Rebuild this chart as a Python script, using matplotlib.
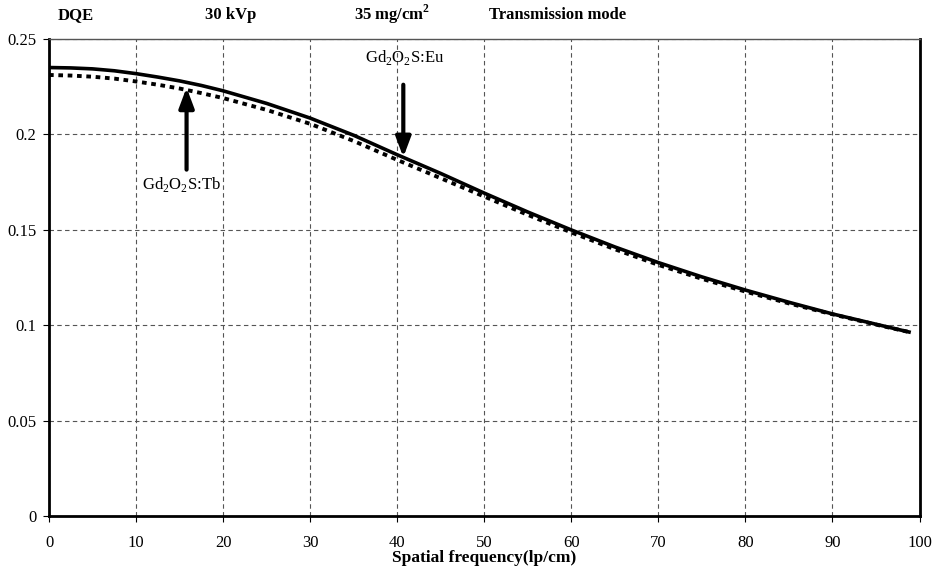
import numpy as np
import matplotlib.pyplot as plt

plt.rcParams['font.family'] = ['Liberation Serif', 'DejaVu Serif']
plt.rcParams['mathtext.fontset'] = 'custom'
plt.rcParams['mathtext.rm'] = 'Liberation Serif'
plt.rcParams['mathtext.bf'] = 'Liberation Serif:bold'

# spatial frequency (lp/cm) and DQE
freq = [0, 2.5, 5, 7.5, 10, 12.5, 15, 17.5, 20, 25, 30, 35, 40, 45, 50, 55, 60, 65, 70, 75,
        80, 85, 90, 95, 99]
dqe_eu = [0.2350, 0.2348, 0.2343, 0.2333, 0.2318, 0.2300, 0.2280, 0.2256, 0.2228, 0.2162,
          0.2085, 0.1995, 0.1893, 0.1795, 0.1692, 0.1593, 0.1499, 0.1410, 0.1328, 0.1253,
          0.1184, 0.1120, 0.1059, 0.1005, 0.0962]
dqe_tb = [0.2311, 0.2308, 0.2302, 0.2292, 0.2277, 0.2260, 0.2240, 0.2216, 0.2190, 0.2128,
          0.2055, 0.1965, 0.1866, 0.1770, 0.1674, 0.1578, 0.1486, 0.1398, 0.1316, 0.1243,
          0.1176, 0.1114, 0.1057, 0.1003, 0.0962]

xticks = np.arange(0, 101, 10)
yticks = [0, 0.05, 0.1, 0.15, 0.2, 0.25]
ylabels = ['0', '0.05', '0.1', '0.15', '0.2', '0.25']

fig = plt.figure(figsize=(9.32, 5.68), dpi=100)
ax = fig.add_axes([0.0526, 0.0915, 0.934, 0.84])

ax.plot(freq, dqe_eu, color='black', lw=2.6, solid_capstyle='butt', solid_joinstyle='round')
ax.plot(freq, dqe_tb, color='black', lw=2.8, linestyle=(0, (1.2, 1.2)))

ax.set_xlim(0, 100)
ax.set_ylim(0, 0.25)
ax.set_xticks(xticks)
ax.set_yticks(yticks)
ax.set_yticklabels(ylabels)
ax.grid(True, color='#555555', linestyle=(0, (4, 3)), linewidth=0.8)
ax.tick_params(axis='x', length=4, pad=10, labelsize=12)
ax.tick_params(axis='y', length=4, pad=5, labelsize=12)

for side in ['left', 'right', 'bottom']:
    ax.spines[side].set_linewidth(2)
ax.spines['top'].set_linewidth(1)
ax.spines['top'].set_color('#555555')

ax.set_xlabel('Spatial frequency(lp/cm)', fontsize=12.5, fontweight='bold', labelpad=-1)

# header line
fig.text(0.062, 0.974, 'DQE', fontsize=12, fontweight='bold', va='center')
fig.text(0.220, 0.974, '30 kVp', fontsize=12, fontweight='bold', va='center')
fig.text(0.380, 0.974, '35 mg/cm$^{\\mathbf{2}}$', fontsize=12, fontweight='bold', va='center')
fig.text(0.525, 0.974, 'Transmission mode', fontsize=12, fontweight='bold', va='center')

arrow = dict(arrowstyle='-|>,head_width=0.45,head_length=1.2', color='black', lw=3,
             shrinkA=0, shrinkB=0)
ax.annotate('', xy=(15.8, 0.2245), xytext=(15.8, 0.1815), arrowprops=arrow)
ax.text(15.2, 0.1735, 'Gd$_2$O$_2$S:Tb', fontsize=12, ha='center', va='center')
ax.annotate('', xy=(40.7, 0.1880), xytext=(40.7, 0.2260), arrowprops=arrow)
ax.text(40.9, 0.2400, 'Gd$_2$O$_2$S:Eu', fontsize=12, ha='center', va='center')

fig.savefig('out.png', dpi=100)
